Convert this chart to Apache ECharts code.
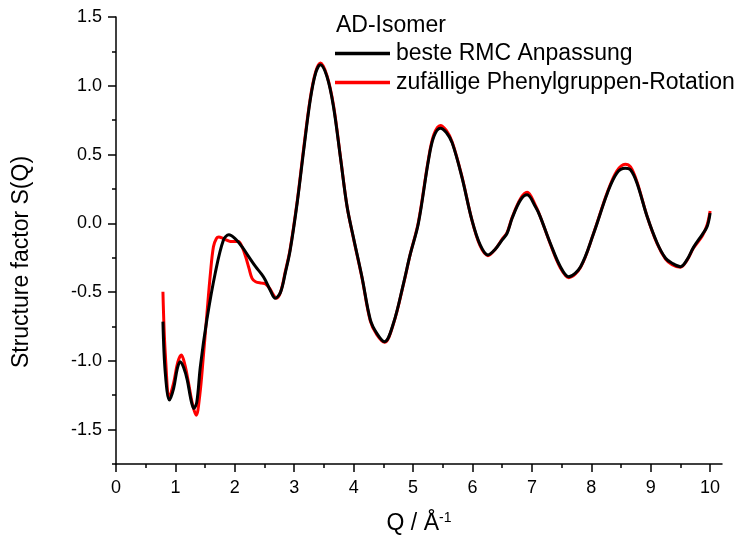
<!DOCTYPE html>
<html><head><meta charset="utf-8">
<script src="https://cdn.jsdelivr.net/npm/echarts@6/dist/echarts.min.js"></script>
<style>html,body{margin:0;padding:0;background:#fff}#c{width:749px;height:541px}</style>
</head><body><div id="c"></div>
<script>
const FONT = '"Liberation Sans", Arial, sans-serif';
const legendTitle = 'AD-Isomer';
const nameBest = 'beste RMC Anpassung';
const nameRand = 'zufällige Phenylgruppen-Rotation';
const yTitle = 'Structure factor S(Q)';

const qBest = [0.79,0.83,0.90,0.97,1.03,1.08,1.14,1.20,1.26,1.31,1.36,1.42,1.53,1.67,1.81,1.90,2.00,2.12,2.23,2.35,2.45,2.51,2.60,2.68,2.77,2.85,2.93,3.05,3.16,3.27,3.36,3.44,3.55,3.66,3.78,3.89,4.00,4.14,4.28,4.39,4.52,4.67,4.84,4.95,5.09,5.26,5.35,5.46,5.56,5.66,5.82,5.99,6.13,6.26,6.38,6.50,6.58,6.67,6.81,6.92,7.06,7.14,7.31,7.48,7.62,7.82,8.04,8.27,8.43,8.57,8.66,8.77,8.94,9.11,9.25,9.36,9.50,9.61,9.72,9.87,9.95,10.0];
const sBest = [-0.715,-1.09,-1.285,-1.20,-1.06,-1.006,-1.05,-1.14,-1.28,-1.346,-1.30,-1.04,-0.70,-0.363,-0.12,-0.084,-0.11,-0.17,-0.24,-0.315,-0.37,-0.41,-0.49,-0.545,-0.50,-0.36,-0.20,0.15,0.534,0.898,1.092,1.153,1.068,0.85,0.47,0.12,-0.11,-0.39,-0.70,-0.80,-0.861,-0.727,-0.436,-0.23,0.0,0.461,0.631,0.692,0.66,0.583,0.34,0.025,-0.157,-0.23,-0.19,-0.12,-0.075,0.04,0.17,0.207,0.12,0.049,-0.145,-0.315,-0.388,-0.315,-0.072,0.219,0.365,0.40,0.389,0.292,0.049,-0.145,-0.254,-0.29,-0.315,-0.266,-0.175,-0.08,-0.024,0.074];

const qRand = [0.79,0.83,0.90,0.97,1.04,1.10,1.16,1.22,1.29,1.35,1.41,1.47,1.53,1.59,1.64,1.69,1.73,1.80,1.88,1.95,2.06,2.12,2.18,2.24,2.29,2.35,2.45,2.51,2.58,2.65,2.70,2.77,2.85,2.93,3.05,3.16,3.27,3.36,3.44,3.55,3.66,3.78,3.89,4.00,4.14,4.28,4.39,4.52,4.67,4.84,4.95,5.09,5.26,5.35,5.46,5.56,5.66,5.82,5.99,6.13,6.26,6.38,6.50,6.58,6.67,6.81,6.92,7.06,7.14,7.31,7.48,7.62,7.82,8.04,8.27,8.43,8.57,8.66,8.77,8.94,9.11,9.25,9.36,9.50,9.61,9.72,9.87,9.95,10.0];
const sRand = [-0.497,-0.95,-1.26,-1.16,-1.01,-0.958,-1.03,-1.16,-1.32,-1.395,-1.25,-0.97,-0.66,-0.36,-0.17,-0.11,-0.10,-0.11,-0.125,-0.133,-0.133,-0.17,-0.24,-0.33,-0.40,-0.425,-0.435,-0.44,-0.47,-0.52,-0.545,-0.50,-0.35,-0.19,0.16,0.55,0.91,1.10,1.165,1.075,0.86,0.475,0.12,-0.115,-0.395,-0.71,-0.81,-0.865,-0.73,-0.44,-0.23,0.01,0.47,0.645,0.712,0.675,0.59,0.345,0.025,-0.165,-0.235,-0.19,-0.115,-0.07,0.045,0.18,0.225,0.13,0.05,-0.15,-0.325,-0.395,-0.32,-0.07,0.225,0.38,0.43,0.41,0.30,0.05,-0.15,-0.26,-0.30,-0.32,-0.27,-0.18,-0.09,-0.01,0.09];

const xMajor = [0,1,2,3,4,5,6,7,8,9,10];
const xMinor = [0.5,1.5,2.5,3.5,4.5,5.5,6.5,7.5,8.5,9.5];
const yMajor = [-1.5,-1.0,-0.5,0.0,0.5,1.0,1.5];
const yMinor = [-1.75,-1.25,-0.75,-0.25,0.25,0.75,1.25];

const pairs = (q, s) => q.map((v, i) => [v, s[i]]);
const axisLineStyle = { color: '#000', width: 1.5 };

const chart = echarts.init(document.getElementById('c'), null, { renderer: 'canvas' });
chart.setOption({
  animation: false,
  backgroundColor: '#fff',
  title: {
    text: legendTitle, left: 336, top: 14, padding: 0,
    textStyle: { fontFamily: FONT, fontSize: 23, fontWeight: 'normal', color: '#000' }
  },
  legend: {
    orient: 'vertical', left: 335, top: 42, padding: 0,
    icon: 'rect', itemWidth: 55, itemHeight: 3.5, itemGap: 6,
    textStyle: { fontFamily: FONT, fontSize: 23, color: '#000', padding: [0, 0, 0, 1] },
    data: [nameBest, nameRand]
  },
  graphic: [{
    type: 'text', x: 22, y: 262, rotation: Math.PI / 2,
    style: { text: yTitle, fontFamily: FONT, fontSize: 23, fill: '#000', align: 'center', verticalAlign: 'middle' }
  }],
  grid: { left: 116, top: 17, right: 27, bottom: 77, containLabel: false },
  xAxis: [
    {
      type: 'value', min: 0, max: 10.2, gridIndex: 0,
      axisLine: { onZero: false, lineStyle: axisLineStyle },
      axisTick: { customValues: xMajor, length: 8, lineStyle: axisLineStyle },
      axisLabel: { customValues: xMajor, fontFamily: FONT, fontSize: 18, color: '#000', margin: 15 },
      splitLine: { show: false },
      name: '{a|Q / Å}{b|-1}', nameLocation: 'middle', nameGap: 47,
      nameTextStyle: { fontFamily: FONT, color: '#000',
        rich: { a: { fontFamily: FONT, fontSize: 23, color: '#000', lineHeight: 26 },
                b: { fontFamily: FONT, fontSize: 14, color: '#000', verticalAlign: 'top', lineHeight: 26, padding: [0,0,8,0] } } }
    },
    {
      type: 'value', min: 0, max: 10.2, gridIndex: 0, position: 'bottom',
      axisLine: { show: false, onZero: false },
      axisTick: { customValues: xMinor, length: 4, lineStyle: axisLineStyle },
      axisLabel: { show: false }, splitLine: { show: false }
    }
  ],
  yAxis: [
    {
      type: 'value', min: -1.75, max: 1.5, gridIndex: 0, position: 'left',
      axisLine: { show: true, onZero: false, lineStyle: axisLineStyle },
      axisTick: { show: true, customValues: yMajor, length: 8, lineStyle: axisLineStyle },
      axisLabel: { customValues: yMajor, fontFamily: FONT, fontSize: 18, color: '#000', margin: 14,
                   formatter: v => v.toFixed(1) },
      splitLine: { show: false }
    },
    {
      type: 'value', min: -1.75, max: 1.5, gridIndex: 0, position: 'left',
      axisLine: { show: false, onZero: false },
      axisTick: { show: true, customValues: yMinor, length: 4, lineStyle: axisLineStyle },
      axisLabel: { show: false }, splitLine: { show: false }
    }
  ],
  series: [
    {
      name: nameRand, type: 'line', xAxisIndex: 0, yAxisIndex: 0,
      data: pairs(qRand, sRand), smooth: 0.35, showSymbol: false, symbol: 'none',
      lineStyle: { color: '#ff0000', width: 3 }, itemStyle: { color: '#ff0000' }
    },
    {
      name: nameBest, type: 'line', xAxisIndex: 0, yAxisIndex: 0,
      data: pairs(qBest, sBest), smooth: 0.35, showSymbol: false, symbol: 'none',
      lineStyle: { color: '#000000', width: 3 }, itemStyle: { color: '#000000' }
    }
  ]
});
</script>
</body></html>
